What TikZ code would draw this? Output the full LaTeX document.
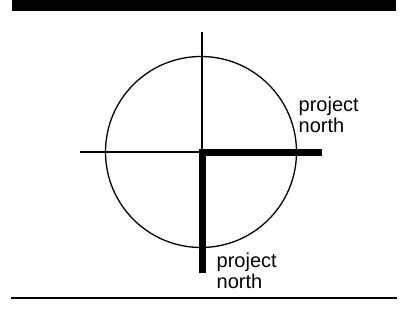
\documentclass[tikz,border=0pt]{standalone}
\usepackage{fontspec}
\setmainfont{Liberation Sans}
\tikzset{
  thinline/.style={line width=1.3pt},
  thickline/.style={line width=7pt, line join=miter, line cap=butt},
  label/.style={font=\fontsize{20}{21}\selectfont, align=left, inner sep=0pt, anchor=base west},
}
\begin{document}
\begin{tikzpicture}[x=1pt,y=-1pt]
\useasboundingbox (0,0) rectangle (415,324);
% top bar
\fill (12,0) rectangle (396,11);
% bottom rule
\coordinate (rl) at (11,298);
\coordinate (rr) at (397,298);
\draw[line width=1.5pt] (rl) -- (rr);
% compass
\coordinate (O) at (201,152);
\coordinate (ntop) at (202,32);
\coordinate (wleft) at (80,152);
\coordinate (c) at (202,152);
\draw[thinline] (O) circle[radius=95.5];
\draw[thinline] (ntop) -- (c) -- (wleft);
\coordinate (pbot) at (202.5,273);
\coordinate (pcorner) at (202.5,152.5);
\coordinate (pright) at (322,152.5);
\draw[thickline] (pbot) -- (pcorner) -- (pright);
\node[label] (t1) at (298.5,132) {project\\north};
\node[label] (t2) at (216.5,288) {project\\north};
\end{tikzpicture}
\end{document}
